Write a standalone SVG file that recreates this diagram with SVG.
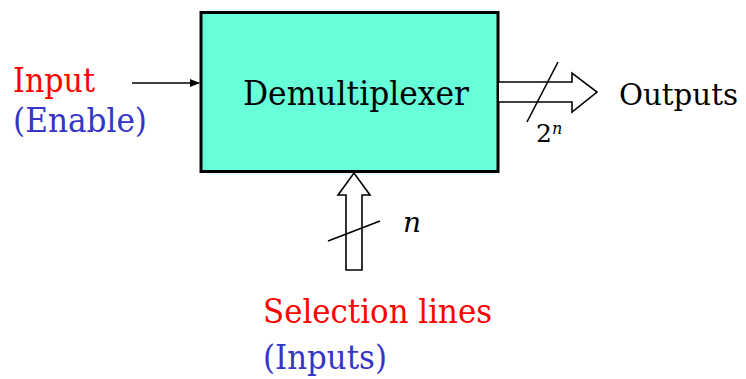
<svg xmlns="http://www.w3.org/2000/svg" width="746" height="379" viewBox="0 0 746 379">
<defs>
<style>
.t{font-family:"DejaVu Serif","Liberation Serif",serif;font-size:34px}
.red{fill:#FF0000}
.blue{fill:#3535C8}
.blk{fill:#000}
.hollow{fill:#fff;stroke:#000;stroke-width:1.6;stroke-linejoin:miter}
.slash{stroke:#000;stroke-width:1.6}
</style>
<marker id="ah" markerWidth="10" markerHeight="8" refX="9" refY="4" orient="auto" markerUnits="userSpaceOnUse">
<path d="M0,0 L10,4 L0,8 Z" fill="#000"/>
</marker>
</defs>
<rect width="746" height="379" fill="#fff"/>
<g id="demux">
<rect x="201" y="12.5" width="297" height="159" fill="#66FFD9" stroke="#000" stroke-width="3"/>
<text class="t blk" x="243" y="105" textLength="226" lengthAdjust="spacingAndGlyphs">Demultiplexer</text>
</g>
<g id="input-label">
<text class="t red" x="13" y="92" textLength="82" lengthAdjust="spacingAndGlyphs">Input</text>
<text class="t blue" x="13" y="132" textLength="134" lengthAdjust="spacingAndGlyphs">(Enable)</text>
</g>
<g id="outputs-label">
<text class="t blk" x="619" y="105" style="font-size:29.5px" textLength="119" lengthAdjust="spacingAndGlyphs">Outputs</text>
<text class="t blk" x="536" y="142" style="font-size:25px">2</text>
<text class="t blk" x="552" y="134" style="font-size:16px;font-style:italic">n</text>
</g>
<g id="selection-label">
<text class="t red" x="263" y="323" textLength="229" lengthAdjust="spacingAndGlyphs">Selection lines</text>
<text class="t blue" x="263" y="369" textLength="124" lengthAdjust="spacingAndGlyphs">(Inputs)</text>
<text class="t blk" x="403" y="232" style="font-size:28px;font-style:italic">n</text>
</g>
<g id="connectors">
<line x1="132" y1="83" x2="199" y2="83" stroke="#000" stroke-width="1.5" marker-end="url(#ah)"/>
<path class="hollow" d="M499,82 L572,82 L572,73 L597,92 L572,112 L572,102 L499,102"/>
<line class="slash" x1="527" y1="122" x2="558" y2="62"/>
<path class="hollow" d="M346,270 L346,195 L338,195 L354,173 L370,195 L362,195 L362,270 Z"/>
<line class="slash" x1="328" y1="241" x2="380" y2="221"/>
</g>
</svg>
